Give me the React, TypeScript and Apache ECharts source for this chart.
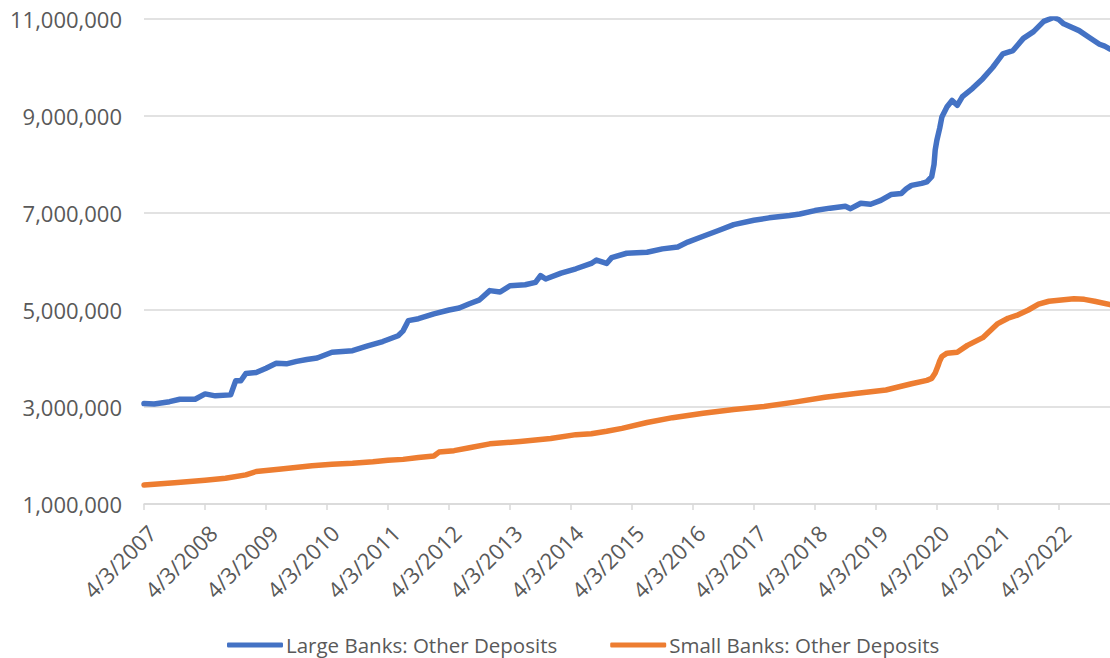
import { useEffect, useRef } from "react";
import * as echarts from "echarts";

const seriesNames = ["Large Banks: Other Deposits", "Small Banks: Other Deposits"];

const largeDates = [
  "2007-04-03", "2007-06-03", "2007-09-03", "2007-11-03", "2008-02-03", "2008-04-03",
  "2008-06-03", "2008-09-03", "2008-10-03", "2008-11-03", "2008-12-03", "2009-02-03",
  "2009-04-03", "2009-06-03", "2009-08-03", "2009-10-03", "2009-12-03", "2010-02-03",
  "2010-05-03", "2010-09-03", "2010-12-03", "2011-03-03", "2011-06-03", "2011-07-03",
  "2011-08-03", "2011-10-03", "2012-01-03", "2012-04-03", "2012-06-03", "2012-08-03",
  "2012-10-03", "2012-12-03", "2013-02-03", "2013-04-03", "2013-07-03", "2013-09-03",
  "2013-10-03", "2013-11-03", "2014-02-03", "2014-05-03", "2014-08-03", "2014-09-03",
  "2014-11-03", "2014-12-03", "2015-03-03", "2015-07-03", "2015-10-03", "2016-01-03",
  "2016-03-03", "2016-06-03", "2016-09-03", "2016-12-03", "2017-04-03", "2017-07-03",
  "2017-11-03", "2018-01-03", "2018-04-03", "2018-07-03", "2018-10-03", "2018-11-03",
  "2019-01-03", "2019-03-03", "2019-05-03", "2019-07-03", "2019-09-03", "2019-10-03",
  "2019-11-03", "2020-01-03", "2020-02-03", "2020-03-03", "2020-03-17", "2020-03-24",
  "2020-04-03", "2020-04-20", "2020-05-03", "2020-06-03", "2020-07-03", "2020-08-03",
  "2020-09-03", "2020-11-03", "2021-01-03", "2021-03-03", "2021-05-03", "2021-07-03",
  "2021-09-03", "2021-11-03", "2022-01-03", "2022-03-03", "2022-04-03", "2022-05-03",
  "2022-08-03", "2022-10-03", "2022-12-03", "2023-01-03", "2023-02-04",
];
const largeValues = [
  3070000, 3060000, 3110000, 3160000, 3160000, 3270000,
  3230000, 3250000, 3540000, 3540000, 3690000, 3710000,
  3800000, 3900000, 3890000, 3940000, 3980000, 4010000,
  4130000, 4160000, 4260000, 4350000, 4470000, 4570000,
  4780000, 4820000, 4920000, 5000000, 5040000, 5130000,
  5210000, 5400000, 5370000, 5500000, 5520000, 5570000,
  5710000, 5640000, 5760000, 5850000, 5960000, 6030000,
  5960000, 6080000, 6170000, 6190000, 6260000, 6300000,
  6400000, 6520000, 6640000, 6760000, 6850000, 6900000,
  6950000, 6980000, 7050000, 7100000, 7140000, 7090000,
  7200000, 7180000, 7260000, 7380000, 7400000, 7500000,
  7570000, 7610000, 7640000, 7750000, 8000000, 8300000,
  8500000, 8750000, 8980000, 9190000, 9320000, 9220000,
  9400000, 9570000, 9770000, 10000000, 10280000, 10350000,
  10600000, 10740000, 10950000, 11030000, 10990000, 10900000,
  10760000, 10620000, 10480000, 10440000, 10380000,
];

const smallDates = [
  "2007-04-03", "2007-10-03", "2008-04-03", "2008-08-03", "2008-12-03", "2009-02-03",
  "2009-07-03", "2010-01-03", "2010-05-03", "2010-09-03", "2011-01-03", "2011-04-03",
  "2011-07-03", "2011-10-03", "2012-01-03", "2012-02-03", "2012-05-03", "2012-08-03",
  "2012-12-03", "2013-06-03", "2013-12-03", "2014-05-03", "2014-08-03", "2014-11-03",
  "2015-02-03", "2015-07-03", "2015-12-03", "2016-06-03", "2016-12-03", "2017-06-03",
  "2017-12-03", "2018-06-03", "2018-12-03", "2019-06-03", "2019-11-03", "2020-02-03",
  "2020-03-03", "2020-03-24", "2020-04-10", "2020-04-20", "2020-05-03", "2020-06-03",
  "2020-08-03", "2020-10-03", "2021-01-03", "2021-04-03", "2021-06-03", "2021-08-03",
  "2021-10-03", "2021-12-03", "2022-02-03", "2022-05-03", "2022-07-03", "2022-09-03",
  "2022-11-03", "2023-02-04",
];
const smallValues = [
  1390000, 1440000, 1490000, 1530000, 1600000, 1670000,
  1720000, 1790000, 1820000, 1840000, 1870000, 1900000,
  1920000, 1960000, 1990000, 2070000, 2100000, 2160000,
  2240000, 2290000, 2350000, 2430000, 2450000, 2500000,
  2560000, 2680000, 2780000, 2870000, 2950000, 3010000,
  3100000, 3200000, 3280000, 3350000, 3480000, 3550000,
  3590000, 3700000, 3850000, 3950000, 4040000, 4110000,
  4130000, 4270000, 4430000, 4720000, 4830000, 4900000,
  5000000, 5120000, 5180000, 5210000, 5230000, 5220000,
  5180000, 5110000,
];

const tickDates = [
  "2007-04-03", "2008-04-03", "2009-04-03", "2010-04-03", "2011-04-03", "2012-04-03",
  "2013-04-03", "2014-04-03", "2015-04-03", "2016-04-03", "2017-04-03", "2018-04-03",
  "2019-04-03", "2020-04-03", "2021-04-03", "2022-04-03",
];
const xStart = "2007-04-03";
const xEnd = "2023-02-04";

function utc(s: string): number {
  const [y, m, d] = s.split("-").map(Number);
  return Date.UTC(y, m - 1, d);
}

const FONT = "'Open Sans', 'Noto Sans', sans-serif";
const TEXT_COLOR = "#595959";
const GRID_COLOR = "#D9D9D9";

export default function App() {
  const ref = useRef<HTMLDivElement>(null);

  useEffect(() => {
    if (!ref.current) return;
    const chart = echarts.init(ref.current, undefined, { renderer: "svg" });
    const tickVals = tickDates.map(utc);
    chart.setOption({
      animation: false,
      backgroundColor: "#ffffff",
      textStyle: { fontFamily: FONT },
      grid: { left: 144, right: 0, top: 19, bottom: 154, containLabel: false },
      legend: {
        data: seriesNames,
        left: 227,
        top: 633,
        padding: 0,
        icon: "roundRect",
        itemWidth: 56,
        itemHeight: 5,
        itemGap: 53,
        textStyle: { fontFamily: FONT, fontSize: 20.5, lineHeight: 24, color: TEXT_COLOR, padding: [0, 0, 0, -2] },
      },
      xAxis: {
        type: "value",
        min: utc(xStart),
        max: utc(xEnd),
        axisLine: { show: true, lineStyle: { color: GRID_COLOR, width: 1.5 } },
        axisTick: {
          show: true,
          customValues: tickVals,
          length: 6,
          lineStyle: { color: GRID_COLOR, width: 1.5 },
        },
        splitLine: { show: false },
        axisLabel: {
          customValues: tickVals,
          rotate: 45,
          margin: 17,
          verticalAlign: "top",
          fontFamily: FONT,
          fontSize: 22,
          color: TEXT_COLOR,
          formatter: (v: number) => {
            const d = new Date(v);
            return `${d.getUTCMonth() + 1}/${d.getUTCDate()}/${d.getUTCFullYear()}`;
          },
        },
      },
      yAxis: {
        type: "value",
        min: 1000000,
        max: 11000000,
        interval: 2000000,
        axisLine: { show: false },
        axisTick: { show: false },
        splitLine: { show: true, lineStyle: { color: GRID_COLOR, width: 1.5 } },
        axisLabel: {
          margin: 22,
          fontFamily: FONT,
          fontSize: 22,
          color: TEXT_COLOR,
          formatter: (v: number) => v.toLocaleString("en-US"),
        },
      },
      series: [
        {
          name: seriesNames[0],
          type: "line",
          showSymbol: false,
          symbol: "none",
          color: "#4472C4",
          lineStyle: { width: 5.5, color: "#4472C4", cap: "round", join: "round" },
          data: largeDates.map((d, i) => [utc(d), largeValues[i]]),
        },
        {
          name: seriesNames[1],
          type: "line",
          showSymbol: false,
          symbol: "none",
          color: "#ED7D31",
          lineStyle: { width: 5.5, color: "#ED7D31", cap: "round", join: "round" },
          data: smallDates.map((d, i) => [utc(d), smallValues[i]]),
        },
      ],
    });
    return () => chart.dispose();
  }, []);

  return (
    <div
      ref={ref}
      style={{ position: "fixed", left: 0, top: 0, width: 1110, height: 658, background: "#fff" }}
    />
  );
}
